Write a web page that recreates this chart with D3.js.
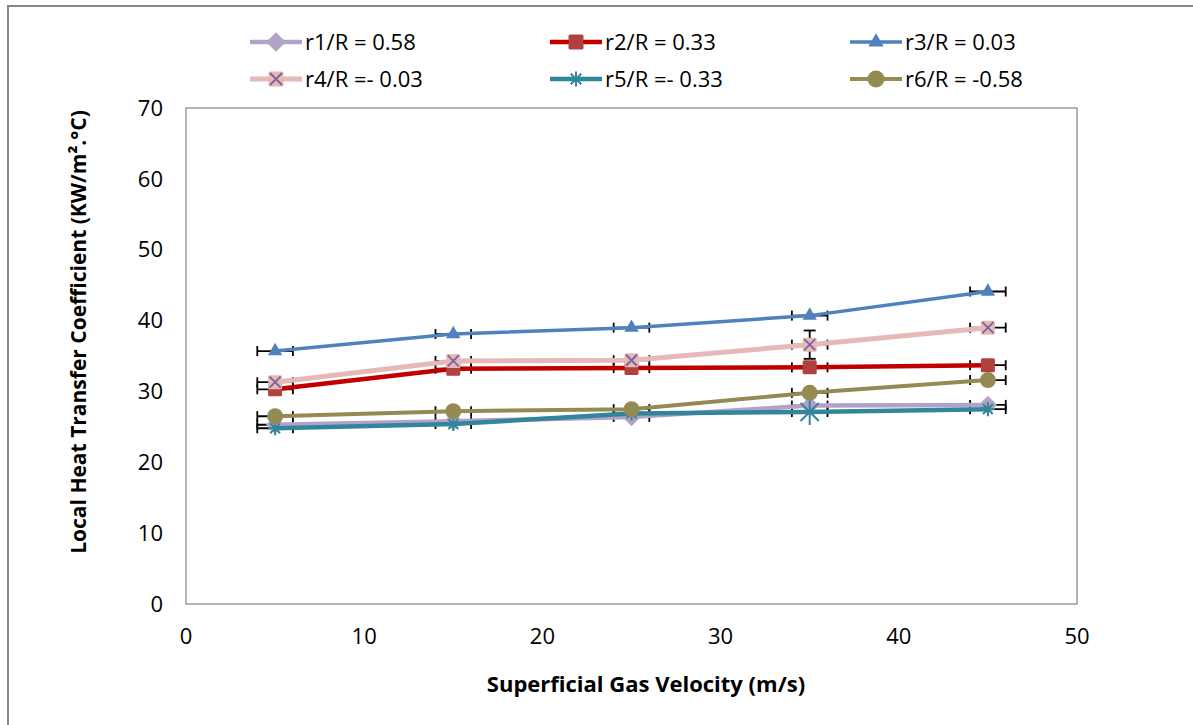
<!DOCTYPE html>
<html>
<head>
<meta charset="utf-8">
<script src="https://cdn.jsdelivr.net/npm/d3@7"></script>
<style>
  body { margin: 0; background: #fff; }
  svg text { font-family: "Open Sans", Lato, sans-serif; fill: #000; }
</style>
</head>
<body>
<svg id="chart" width="1193" height="725"></svg>
<script>
// data
const velocity = [5, 15, 25, 35, 45];
const seriesNames = ["r1/R = 0.58", "r2/R = 0.33", "r3/R = 0.03", "r4/R =- 0.03", "r5/R =- 0.33", "r6/R = -0.58"];
const r1 = [25.3, 25.8, 26.4, 28.0, 28.1];
const r2 = [30.3, 33.2, 33.3, 33.4, 33.7];
const r3 = [35.7, 38.1, 39.0, 40.7, 44.1];
const r4 = [31.3, 34.3, 34.4, 36.6, 39.0];
const r5 = [24.8, 25.4, 26.9, 27.1, 27.5];
const r6 = [26.5, 27.2, 27.5, 29.8, 31.6];
const xErr = [1, 1, 1, 1, 1];
const r4yErr = [0, 0, 0, 2, 0];
const xTicks = [0, 10, 20, 30, 40, 50];
const yTicks = [0, 10, 20, 30, 40, 50, 60, 70];

const svg = d3.select('#chart');
const margin = { top: 108, left: 186, right: 116, bottom: 121 };
const W = 1193, H = 725;
const innerW = W - margin.left - margin.right;
const innerH = H - margin.top - margin.bottom;

const styles = [
  { line: '#B3A2C7', fill: '#B3A2C7', shape: 'diamond', lw: 4.5 },
  { line: '#C00000', fill: '#B0413E', shape: 'square', lw: 4.5 },
  { line: '#4F81BD', fill: '#4F81BD', shape: 'triangle', lw: 3.5 },
  { line: '#E6B9B8', fill: '#E6B9B8', shape: 'x', lw: 5 },
  { line: '#31859C', fill: '#31859C', shape: 'star', lw: 4.5 },
  { line: '#948A54', fill: '#948A54', shape: 'circle', lw: 4 }
];
const allSeries = [r1, r2, r3, r4, r5, r6];
const yErrs = [null, null, null, r4yErr, null, null];

// outer frame
svg.append('rect')
  .attr('x', 8).attr('y', 6).attr('width', 1200).attr('height', 740)
  .attr('fill', 'none').attr('stroke', '#868686').attr('stroke-width', 2);

const x = d3.scaleLinear().domain([0, 50]).range([0, innerW]);
const y = d3.scaleLinear().domain([0, 70]).range([innerH, 0]);

const g = svg.append('g').attr('transform', 'translate(' + margin.left + ',' + margin.top + ')');

g.append('rect')
  .attr('width', innerW).attr('height', innerH)
  .attr('fill', 'none').attr('stroke', '#8c8c8c').attr('stroke-width', 1.3);

// tick labels
g.selectAll('.ylab').data(yTicks).enter().append('text')
  .attr('x', -23).attr('y', d => y(d)).attr('dy', '0.35em')
  .attr('text-anchor', 'end').style('font-size', '22px').text(d => d);
g.selectAll('.xlab').data(xTicks).enter().append('text')
  .attr('x', d => x(d)).attr('y', innerH + 40)
  .attr('text-anchor', 'middle').style('font-size', '22px').text(d => d);

// axis titles
g.append('text')
  .attr('x', 460).attr('y', innerH + 88)
  .attr('text-anchor', 'middle').style('font-size', '22px').style('font-weight', 'bold')
  .text('Superficial Gas Velocity (m/s)');
g.append('text')
  .attr('transform', 'rotate(-90)')
  .attr('x', -(332 - margin.top)).attr('y', -100)
  .attr('text-anchor', 'middle').style('font-size', '21px').style('font-weight', 'bold')
  .text('Local Heat Transfer Coefficient  (KW/m\u00B2.\u00B0C)');

// error bars under the lines
allSeries.forEach((vals, si) => {
  const eb = g.append('g').attr('stroke', '#000').attr('stroke-width', 1.8);
  velocity.forEach((v, i) => {
    const cy = y(vals[i]);
    eb.append('line').attr('x1', x(v - xErr[i])).attr('x2', x(v + xErr[i])).attr('y1', cy).attr('y2', cy);
    [v - xErr[i], v + xErr[i]].forEach(e => {
      eb.append('line').attr('x1', x(e)).attr('x2', x(e)).attr('y1', cy - 5).attr('y2', cy + 5);
    });
    if (yErrs[si] && yErrs[si][i] > 0) {
      const e = yErrs[si][i];
      eb.append('line').attr('x1', x(v)).attr('x2', x(v)).attr('y1', y(vals[i] - e)).attr('y2', y(vals[i] + e));
      [vals[i] - e, vals[i] + e].forEach(t => {
        eb.append('line').attr('x1', x(v) - 6).attr('x2', x(v) + 6).attr('y1', y(t)).attr('y2', y(t));
      });
    }
  });
});

function drawMarker(sel, st, size) {
  const s = size;
  if (st.shape === 'diamond') {
    sel.append('path').attr('d', d3.symbol(d3.symbolDiamond2, s * s * 1.1)).attr('fill', st.fill);
  } else if (st.shape === 'square') {
    sel.append('rect').attr('x', -s / 2).attr('y', -s / 2).attr('width', s).attr('height', s)
      .attr('rx', 1.5).attr('fill', st.fill);
  } else if (st.shape === 'triangle') {
    sel.append('path').attr('d', d3.symbol(d3.symbolTriangle2, s * s * 0.75)).attr('fill', st.fill);
  } else if (st.shape === 'circle') {
    sel.append('circle').attr('r', s / 2 + 1).attr('fill', st.fill);
  } else if (st.shape === 'x') {
    sel.append('rect').attr('x', -s / 2).attr('y', -s / 2).attr('width', s).attr('height', s)
      .attr('rx', 1.5).attr('fill', st.fill);
    const r = s / 2 - 1.5;
    sel.append('path').attr('d', 'M' + (-r) + ',' + (-r) + 'L' + r + ',' + r + 'M' + (-r) + ',' + r + 'L' + r + ',' + (-r))
      .attr('stroke', '#7A62A0').attr('stroke-width', 1.8).attr('fill', 'none');
  } else if (st.shape === 'star') {
    const r = s / 2;
    sel.append('path')
      .attr('d', 'M' + (-r) + ',0H' + r + 'M0,' + (-r) + 'V' + r +
        'M' + (-r * 0.7) + ',' + (-r * 0.7) + 'L' + (r * 0.7) + ',' + (r * 0.7) +
        'M' + (-r * 0.7) + ',' + (r * 0.7) + 'L' + (r * 0.7) + ',' + (-r * 0.7))
      .attr('stroke', st.fill).attr('stroke-width', 2).attr('fill', 'none');
  }
}

const line = d3.line().x(d => x(d[0])).y(d => y(d[1]));

allSeries.forEach((vals, si) => {
  const st = styles[si];
  const pts = velocity.map((v, i) => [v, vals[i]]);
  const sg = g.append('g');
  sg.append('path').datum(pts).attr('d', line)
    .attr('fill', 'none').attr('stroke', st.line).attr('stroke-width', st.lw);
  pts.forEach(p => {
    const m = sg.append('g').attr('transform', 'translate(' + x(p[0]) + ',' + y(p[1]) + ')');
    drawMarker(m, st, st.shape === 'star' && p[0] === 35 ? 26 : 14);
  });
});

// legend
const legendX = [250, 550, 850];
const legendY = [42, 79];
seriesNames.forEach((name, i) => {
  const st = styles[i];
  const lg = svg.append('g')
    .attr('transform', 'translate(' + legendX[i % 3] + ',' + legendY[Math.floor(i / 3)] + ')');
  lg.append('line').attr('x1', 0).attr('x2', 52).attr('y1', 0).attr('y2', 0)
    .attr('stroke', st.line).attr('stroke-width', st.lw);
  drawMarker(lg.append('g').attr('transform', 'translate(26,0)'), st, 15);
  lg.append('text').attr('x', 55).attr('y', 0).attr('dy', '0.35em')
    .style('font-size', '22px').text(name);
});
</script>
</body>
</html>
